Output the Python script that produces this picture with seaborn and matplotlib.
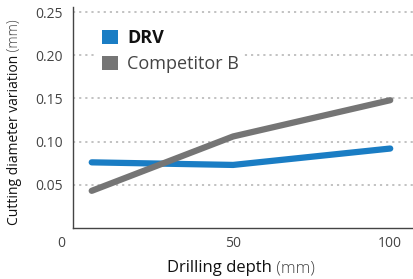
import seaborn as sns
import pandas as pd
import matplotlib.pyplot as plt
from matplotlib.patches import Patch

# data
depth = [5, 50, 100]
drv = [0.076, 0.073, 0.092]
competitor_b = [0.043, 0.106, 0.148]
series_names = ["DRV", "Competitor B"]
colors = ["#1a7dc4", "#757575"]
y_ticks = [0.05, 0.10, 0.15, 0.20, 0.25]
x_ticks = [50, 100]


def main():
    sns.set_style("white")
    plt.rcParams["font.family"] = ["Open Sans", "DejaVu Sans"]

    df = pd.DataFrame({
        "depth": depth * 2,
        "value": drv + competitor_b,
        "series": [series_names[0]] * 3 + [series_names[1]] * 3,
    })

    fig = plt.figure(figsize=(4.14, 2.79), dpi=100)
    ax = fig.add_axes([0.176, 0.183, 0.822, 0.792])

    sns.lineplot(data=df, x="depth", y="value", hue="series",
                 palette=colors, linewidth=4.5, ax=ax, legend=False,
                 solid_capstyle="round", solid_joinstyle="round")

    ax.set_xlim(-1, 107.3)
    ax.set_ylim(0, 0.256)
    ax.set_yticks(y_ticks)
    ax.set_yticklabels([f"{v:.2f}" for v in y_ticks])
    ax.set_xticks(x_ticks)
    ax.set_xticklabels([str(v) for v in x_ticks])
    ax.tick_params(axis="both", length=0, labelsize=10, labelcolor="#444444")
    ax.tick_params(axis="y", pad=7)
    ax.tick_params(axis="x", pad=6)
    ax.set_xlabel("")
    ax.set_ylabel("")

    # dotted horizontal grid
    for v in y_ticks:
        ax.axhline(v, color="#bdbdbd", linestyle=(0, (1.2, 2.2)),
                   linewidth=1.3, zorder=0)

    for side in ["top", "right"]:
        ax.spines[side].set_visible(False)
    for side in ["left", "bottom"]:
        ax.spines[side].set_color("#444444")
        ax.spines[side].set_linewidth(1.0)

    # origin label sits left of the axis
    ax.text(-4.8, -0.018, "0", ha="center", va="center",
            fontsize=10, color="#444444", clip_on=False)

    # legend with square handles
    handles = [Patch(facecolor=c, edgecolor="none") for c in colors]
    leg = ax.legend(handles, series_names, loc="upper left",
                    bbox_to_anchor=(0.044, 0.965), fontsize=13,
                    handlelength=0.88, handleheight=0.88, handletextpad=0.5,
                    labelspacing=0.45, frameon=True, borderpad=0.3)
    leg.get_frame().set_edgecolor("none")
    leg.get_frame().set_facecolor("white")
    leg.get_frame().set_alpha(1)
    leg.get_texts()[0].set_fontweight("bold")
    leg.get_texts()[0].set_color("#111111")
    leg.get_texts()[1].set_color("#444444")

    # axis labels, unit part in lighter text
    xl = fig.text(0.403, 0.024, "Drilling depth", fontsize=12,
                  color="#111111", ha="left", va="baseline")
    ax.annotate(" (mm)", xy=(1, 0), xycoords=xl, ha="left", va="bottom",
                fontsize=12, color="#444444", fontweight="light")
    yl = fig.text(0.036, 0.194, "Cutting diameter variation", fontsize=10,
                  color="#111111", rotation=90, ha="center", va="bottom")
    ax.annotate(" (mm)", xy=(0.5, 1), xycoords=yl, ha="center", va="bottom",
                rotation=90, fontsize=10, color="#444444", fontweight="light")

    plt.savefig("out.png", dpi=100)


if __name__ == "__main__":
    main()
